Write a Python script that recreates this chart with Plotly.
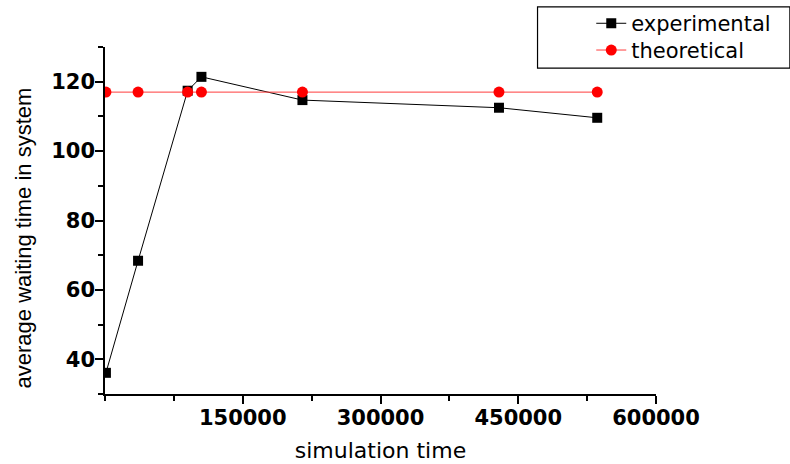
import plotly.graph_objects as go

# ---- data ----
sim_time = [1000, 36000, 90000, 105000, 215000, 429000, 536000]
experimental = [36.1, 68.4, 117.4, 121.4, 114.7, 112.5, 109.6]
theoretical = [117.0, 117.0, 117.0, 117.0, 117.0, 117.0, 117.0]

x_tickvals = [150000, 300000, 450000, 600000]
y_tickvals = [40, 60, 80, 100, 120]

W, H = 790, 464
ML, MR, MT, MB = 105, 134.3, 47.3, 70.3
PW = W - ML - MR
PH = H - MT - MB


def px_to_paper_x(px):
    return (px - ML) / PW


def px_to_paper_y(py):
    return (H - MB - py) / PH


fig = go.Figure()
fig.add_trace(go.Scatter(
    x=sim_time, y=experimental, name="experimental", mode="lines+markers",
    line=dict(color="black", width=1),
    marker=dict(symbol="square", size=10, color="black"),
    legend="legend",
))
fig.add_trace(go.Scatter(
    x=sim_time, y=theoretical, name="theoretical", mode="lines+markers",
    line=dict(color="#ff3c3c", width=1),
    marker=dict(symbol="circle", size=11, color="#ff0000"),
    legend="legend2",
))

legend_font = dict(family="DejaVu Sans", size=21, color="black")

fig.update_layout(
    width=W, height=H,
    margin=dict(l=ML, r=MR, t=MT, b=MB, pad=0, autoexpand=False),
    paper_bgcolor="white", plot_bgcolor="white",
    showlegend=True,
    legend=dict(
        x=px_to_paper_x(591), y=px_to_paper_y(3.5), xanchor="left", yanchor="top",
        bgcolor="rgba(0,0,0,0)", borderwidth=0, font=legend_font,
    ),
    legend2=dict(
        x=px_to_paper_x(591), y=px_to_paper_y(30.2), xanchor="left", yanchor="top",
        bgcolor="rgba(0,0,0,0)", borderwidth=0, font=legend_font,
    ),
    xaxis=dict(
        range=[0, 600000], showgrid=False, zeroline=False,
        showline=True, linecolor="black", linewidth=1.5,
        ticks="outside", ticklen=8, tickwidth=1.5, tickcolor="black",
        tickmode="array", tickvals=x_tickvals, tickformat="d",
        tickfont=dict(family="DejaVu Sans", size=21, color="black", weight="bold"),
        ticklabelstandoff=-4,
        minor=dict(dtick=75000, tick0=0, ticks="outside", ticklen=5,
                   tickwidth=1.5, tickcolor="black"),
        title=dict(text="simulation time",
                   font=dict(family="DejaVu Sans", size=22, color="black"),
                   standoff=14),
        automargin=False,
    ),
    yaxis=dict(
        range=[30, 130], showgrid=False, zeroline=False,
        showline=True, linecolor="black", linewidth=1.5,
        ticks="outside", ticklen=8, tickwidth=1.5, tickcolor="black",
        tickmode="array", tickvals=y_tickvals,
        tickfont=dict(family="DejaVu Sans", size=21, color="black", weight="bold"),
        ticklabelstandoff=-4,
        minor=dict(dtick=10, tick0=0, ticks="outside", ticklen=5,
                   tickwidth=1.5, tickcolor="black"),
        automargin=False,
    ),
    annotations=[dict(
        text="average waiting time in system", textangle=-90,
        xref="paper", yref="paper",
        x=px_to_paper_x(24), y=px_to_paper_y(237.5),
        xanchor="center", yanchor="middle", showarrow=False,
        font=dict(family="Liberation Sans", size=22, color="#000000"),
    )],
    shapes=[dict(
        type="rect", xref="paper", yref="paper",
        x0=px_to_paper_x(537.3), x1=px_to_paper_x(789.5),
        y0=px_to_paper_y(68.3), y1=px_to_paper_y(7.3),
        line=dict(color="black", width=1.2), fillcolor="rgba(0,0,0,0)",
    )],
)

fig.write_html(
    "out.html",
    config={"displayModeBar": False},
    post_script="document.body.style.margin='0px';document.body.style.padding='0px';",
)
